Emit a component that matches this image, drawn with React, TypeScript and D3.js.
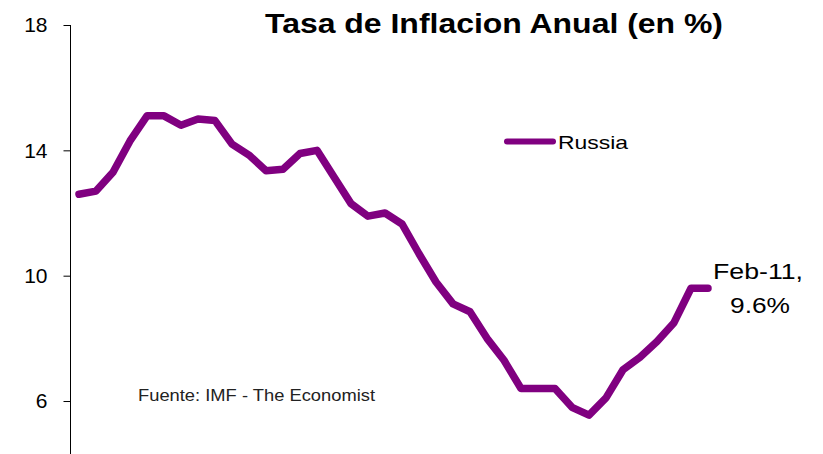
import React, { useEffect, useRef } from "react";
import * as d3 from "d3";

const months: string[] = [
  "Jan-08","Feb-08","Mar-08","Apr-08","May-08","Jun-08","Jul-08","Aug-08","Sep-08","Oct-08","Nov-08","Dec-08",
  "Jan-09","Feb-09","Mar-09","Apr-09","May-09","Jun-09","Jul-09","Aug-09","Sep-09","Oct-09","Nov-09","Dec-09",
  "Jan-10","Feb-10","Mar-10","Apr-10","May-10","Jun-10","Jul-10","Aug-10","Sep-10","Oct-10","Nov-10","Dec-10",
  "Jan-11","Feb-11",
];
const russia: number[] = [
  12.6, 12.7, 13.3, 14.3, 15.1, 15.1, 14.8, 15.0, 14.95, 14.2, 13.85, 13.35,
  13.4, 13.9, 14.0, 13.15, 12.3, 11.9, 12.0, 11.65, 10.7, 9.8, 9.1, 8.85,
  8.0, 7.3, 6.4, 6.4, 6.4, 5.8, 5.55, 6.1, 7.0, 7.4, 7.9, 8.5,
  9.6, 9.6,
];
const yTicks: number[] = [6, 10, 14, 18];
const title = "Tasa de Inflacion Anual (en %)";
const seriesName = "Russia";
const source = "Fuente: IMF - The Economist";
const annotation: string[] = ["Feb-11,", "9.6%"];

const W = 823;
const H = 454;
const PURPLE = "#800080";
const FONT = "'Liberation Sans', Arial, sans-serif";

export default function App() {
  const axisRef = useRef<SVGGElement>(null);

  const x = d3.scalePoint<string>().domain(months).range([79, 708]);
  const y = d3.scaleLinear().domain([4, 18]).range([463.7, 25]);

  useEffect(() => {
    if (!axisRef.current) return;
    const g = d3.select(axisRef.current);
    g.selectAll("*").remove();
    g.call(
      d3.axisLeft(y).tickValues(yTicks).tickSize(7).tickPadding(16).tickFormat(d3.format("d"))
    );
    g.select(".domain").remove();
    g.append("line")
      .attr("x1", 0).attr("x2", 0)
      .attr("y1", y(18)).attr("y2", H)
      .attr("stroke", "#000").attr("stroke-width", 1);
    g.selectAll(".tick line").attr("stroke", "#000");
    g.selectAll(".tick text")
      .attr("fill", "#000")
      .style("font-family", FONT)
      .style("font-size", "21px");
  }, []);

  const line = d3
    .line<number>()
    .x((_, i) => x(months[i]) as number)
    .y((d) => y(d));

  const last = russia.length - 1;

  return (
    <svg
      width={W}
      height={H}
      style={{ position: "absolute", left: 0, top: 0, background: "#fff" }}
    >
      <rect width={W} height={H} fill="#fff" />
      <g ref={axisRef} transform="translate(70.5,0)" />
      <path
        d={line(russia) || ""}
        fill="none"
        stroke={PURPLE}
        strokeWidth={7.5}
        strokeLinejoin="round"
        strokeLinecap="round"
      />
      <text
        x={265}
        y={33}
        fontFamily={FONT}
        fontWeight="bold"
        fontSize={27}
        textLength={458}
        lengthAdjust="spacingAndGlyphs"
        fill="#000"
      >
        {title}
      </text>
      <line x1={507} x2={553} y1={141.5} y2={141.5} stroke={PURPLE} strokeWidth={6} strokeLinecap="round" />
      <text
        x={558}
        y={148.5}
        fontFamily={FONT}
        fontSize={19}
        textLength={70}
        lengthAdjust="spacingAndGlyphs"
        fill="#000"
      >
        {seriesName}
      </text>
      <text
        x={138}
        y={401}
        fontFamily={FONT}
        fontSize={16.5}
        textLength={237}
        lengthAdjust="spacingAndGlyphs"
        fill="#222"
      >
        {source}
      </text>
      <text
        x={x(months[last])! + 5}
        y={y(russia[last]) - 9}
        fontFamily={FONT}
        fontSize={22}
        textLength={90}
        lengthAdjust="spacingAndGlyphs"
        fill="#000"
      >
        {annotation[0]}
      </text>
      <text
        x={x(months[last])! + 22}
        y={y(russia[last]) + 25}
        fontFamily={FONT}
        fontSize={22}
        textLength={60}
        lengthAdjust="spacingAndGlyphs"
        fill="#000"
      >
        {annotation[1]}
      </text>
    </svg>
  );
}
